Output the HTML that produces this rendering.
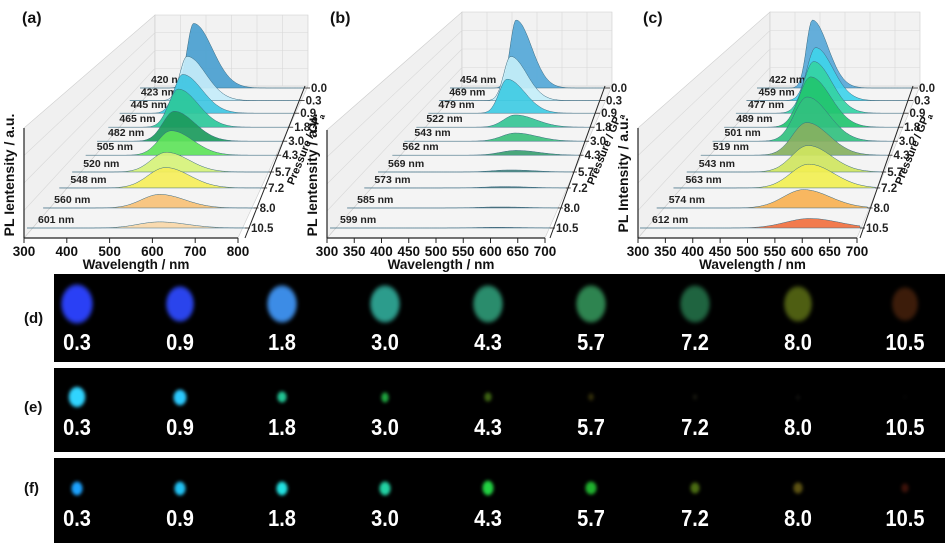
<!DOCTYPE html>
<html><head><meta charset="utf-8">
<style>
body{margin:0;background:#fff;width:950px;height:547px;overflow:hidden;position:relative;font-family:"Liberation Sans",sans-serif}
svg{position:absolute;left:0;top:0}
.strip{position:absolute;left:54px;width:891px;background:#000}
.blob{position:absolute;border-radius:50%}
.pl{position:absolute;color:#fff;font-family:"Liberation Sans Narrow","Liberation Sans",sans-serif;font-weight:bold;font-size:20px;transform:translateX(-50%) scaleY(1.15)}
.sl{position:absolute;left:24px;font-weight:bold;font-size:15px;color:#111}
</style></head><body>
<svg id="chart" width="950" height="275"></svg>

<div class="strip" style="top:274px;height:88px"></div>
<div class="strip" style="top:368px;height:84px"></div>
<div class="strip" style="top:458px;height:85px"></div>
<div class="sl" style="top:310px">(d)</div>
<div class="sl" style="top:399px">(e)</div>
<div class="sl" style="top:480px">(f)</div>

<script>
// ---- data ----
const pressures = ["0.0","0.3","0.9","1.8","3.0","4.3","5.7","7.2","8.0","10.5"];
const aLabels = ["420 nm","423 nm","445 nm","465 nm","482 nm","505 nm","520 nm","548 nm","560 nm","601 nm"];
const aPeaks = [445,452,465,480,495,512,528,552,568,596];
const aIntensity = [95,65,57,56,44,36,29,30,20,9];
const aSigL = [20,22,25,28,32,35,40,45,45,50];
const aSigR = [60,58,58,58,58,60,60,62,62,65];
const bLabels = ["454 nm","469 nm","479 nm","522 nm","543 nm","562 nm","569 nm","573 nm","585 nm","599 nm"];
const bPeaks = [458,466,478,520,540,560,568,573,585,599];
const bIntensity = [100,65,50,18,12,7,3,2,1.5,1];
const bSigL = [16,18,20,28,32,35,38,40,40,40];
const bSigR = [42,42,45,50,50,50,50,50,50,50];
const cLabels = ["422 nm","459 nm","477 nm","489 nm","501 nm","519 nm","543 nm","563 nm","574 nm","612 nm"];
const cPeaks = [428,459,475,489,501,519,543,563,574,605];
const cIntensity = [100,78,76,74,65,48,39,35,27,14];
const cSigL = [16,22,25,28,30,32,35,38,40,45];
const cSigR = [42,45,45,48,50,50,50,52,52,55];
const aColors = ["#4a9fd0","#c4ecf8","#3fc6e2","#2cc89a","#1b9a5c","#5ee35a","#d6f27a","#f5ee5a","#f7c177","#f9d7a8"];
const bColors = ["#55a8d8","#c4eef9","#3fcbe3","#35c495","#3cbf7c","#3a9f70","#4a8a80","#4a7a80","#4a6a70","#4a6070"];
const cColors = ["#58a8d8","#3fd2ea","#34d3a3","#22c46f","#32c07f","#86b060","#cfe55f","#f1ef52","#f7b152","#f1703f"];
const photoLabels = ["0.3","0.9","1.8","3.0","4.3","5.7","7.2","8.0","10.5"];
const dColors = ["#2a40f5","#2a44ec","#3c8ce6","#2c9c8c","#2a8c6c","#2e8450","#1f6440","#4e5e12","#3c1c0a"];
const dSizes = [42,38,40,40,40,40,40,38,36];
const eColors = ["#30d4ff","#2ccaff","#22c494","#1fa23e","#3c6212","#302c0a","#1a1a10","#121210","#050505"];
const eSizes = [22,17,12,11,10,8,6,5,4];
const fColors = ["#1ca2ff","#22c2f4","#22e2e2","#22d2a4","#22d242","#20b22e","#4a6c12","#5c5212","#3c120a"];
const fSizes = [15,15,15,15,16,14,12,12,10];

const NS="http://www.w3.org/2000/svg";
const svg=document.getElementById('chart');
function mk(tag,attrs,parent){const e=document.createElementNS(NS,tag);for(const k in attrs)e.setAttribute(k,attrs[k]);(parent||svg).appendChild(e);return e;}
const tFrac=[1,.91,.82,.72,.62,.52,.4,.286,.143,0];
function lerp(a,b,t){return a+(b-a)*t;}

function panel(cfg,labels,peaks,inten,sigL,sigR,colors,name){
  const g=mk('g',{});
  
  
  const wmin=300,wmax=cfg.wmax;
  const floor=mk('polygon',{points:`${cfg.ax0},238 ${cfg.ax1},238 ${cfg.bw1},86 ${cfg.bw0},86`,fill:'#f4f4f4',stroke:'#ccc','stroke-width':0.6},g);
  
  
  const lw=mk('polygon',{points:`${cfg.ax0},238 ${cfg.ax0},${cfg.lt} ${cfg.bw0},${cfg.bt} ${cfg.bw0},86`,fill:'#f0f0f0',stroke:'#ccc','stroke-width':0.6},g);
  
  
  const bw=mk('polygon',{points:`${cfg.bw0},${cfg.bt} ${cfg.bw1},${cfg.bt} ${cfg.bw1},86 ${cfg.bw0},86`,fill:'#f2f2f2',stroke:'#ccc','stroke-width':0.6},g);
  
  
  for(let k=1;k<6;k++){const x=lerp(cfg.bw0,cfg.bw1,k/6);mk('line',{x1:x,y1:cfg.bt,x2:x,y2:86,stroke:'#d8d8d8','stroke-width':0.6},g);}
  for(let k=1;k<4;k++){const y=lerp(cfg.bt,86,k/4);mk('line',{x1:cfg.bw0,y1:y,x2:cfg.bw1,y2:y,stroke:'#d8d8d8','stroke-width':0.6},g);
    mk('line',{x1:cfg.ax0,y1:lerp(cfg.lt,238,k/4),x2:cfg.bw0,y2:y,stroke:'#d8d8d8','stroke-width':0.6},g);}
  for(let i=0;i<pressures.length;i++){
    const t=tFrac[i], y=228-140*t;
    const x0=lerp(cfg.f0,cfg.b0,t), x1=lerp(cfg.f1,cfg.b1,t);
    const X=w=>x0+(w-wmin)/(wmax-wmin)*(x1-x0);
    let d=`M${X(wmin)-8},${y}`;
    for(let w=wmin;w<=wmax;w+=4){
      const s=w<peaks[i]?sigL[i]:sigR[i];
      const v=inten[i]*Math.exp(-0.5*((w-peaks[i])/s)**2);
      d+=` L${X(w).toFixed(1)},${(y-v*0.68).toFixed(1)}`;
    }
    d+=` L${X(wmax)},${y} Z`;
    const p=mk('path',{d:d,fill:colors[i],'fill-opacity':0.92,stroke:'#3a6a80','stroke-width':0.5},g);
    
    
    const lab=mk('text',{x:X(wmin)+cfg.lo,y:y-5,'font-size':10.5,'font-weight':'bold',fill:'#222'},g);
    lab.textContent=labels[i];
    
    
    mk('line',{x1:X(wmax),y1:y,x2:X(wmax)+5,y2:y,stroke:'#222','stroke-width':0.8},g);
    const pl=mk('text',{x:X(wmax)+6,y:y+4,'font-size':11.5,'font-weight':'bold',fill:'#222'},g);
    pl.textContent=pressures[i];
    
    
  }
  mk('line',{x1:cfg.f1,y1:238,x2:cfg.b1,y2:86,stroke:'#222','stroke-width':1},g);
  mk('line',{x1:cfg.ax0,y1:238,x2:cfg.ax1,y2:238,stroke:'#222','stroke-width':1.2},g);
  mk('line',{x1:cfg.ax0,y1:238,x2:cfg.ax0,y2:cfg.lt,stroke:'#222','stroke-width':1.2},g);
  for(let w=wmin;w<=wmax;w+=cfg.step){
    const x=cfg.ax0+(w-wmin)/(wmax-wmin)*(cfg.ax1-cfg.ax0);
    mk('line',{x1:x,y1:238,x2:x,y2:243,stroke:'#222'},g);
    const tx=mk('text',{x:x,y:256,'font-size':13.5,'font-weight':'bold','text-anchor':'middle',fill:'#111'},g);
    tx.textContent=w;
    
    
  }
  const xt=mk('text',{x:(cfg.ax0+cfg.ax1)/2+5,y:269,'font-size':13.5,'font-weight':'bold','text-anchor':'middle',fill:'#111'},g);
  xt.textContent='Wavelength / nm';
  
  
  const yt=mk('text',{x:0,y:0,'font-size':14,'font-weight':'bold','text-anchor':'middle',fill:'#111',transform:`translate(${cfg.ax0-10},${cfg.yc}) rotate(-90)`},g);
  yt.textContent=cfg.ytitle;
  
  
  const pt=mk('text',{x:0,y:0,'font-size':11,'font-weight':'bold','text-anchor':'middle',fill:'#111',transform:`translate(${cfg.b1+3},${cfg.pty}) rotate(-68)`},g);
  pt.innerHTML='Pressure / GP<tspan font-size="8" dy="3">a</tspan>';
  
  
  const pn=mk('text',{x:cfg.lx,y:23,'font-size':16,'font-weight':'bold',fill:'#111'},g);
  pn.textContent=cfg.panel;
  
  
}
panel({wmax:800,step:100,ax0:24,ax1:238,f0:35,f1:245,b0:148,b1:305,bw0:155,bw1:308,lt:128,bt:15,lo:3,yc:175,pty:150,lx:22,panel:'(a)',ytitle:'PL Ientensity / a.u.'},aLabels,aPeaks,aIntensity,aSigL,aSigR,aColors,'panel-a');
panel({wmax:700,step:50,ax0:327,ax1:545,f0:338,f1:550,b0:458,b1:605,bw0:462,bw1:612,lt:130,bt:12,lo:2,yc:175,pty:150,lx:330,panel:'(b)',ytitle:'PL Ientensity / a.u.'},bLabels,bPeaks,bIntensity,bSigL,bSigR,bColors,'panel-b');
panel({wmax:700,step:50,ax0:638,ax1:857,f0:648,f1:860,b0:765,b1:913,bw0:770,bw1:920,lt:128,bt:12,lo:4,yc:175,pty:150,lx:643,panel:'(c)',ytitle:'PL Intensity / a.u.'},cLabels,cPeaks,cIntensity,cSigL,cSigR,cColors,'panel-c');

const xs=[77,180,282,385,488,591,695,798,905];
function strip(top,blobY,labY,cols,sizes,tag){
  for(let i=0;i<photoLabels.length;i++){
    const b=document.createElement('div');
    b.className='blob';
    
    
    const w=sizes[i]*0.8,h=sizes[i];
    b.style.cssText=`left:${xs[i]-w/2}px;top:${blobY-h/2}px;width:${w}px;height:${h}px;background:radial-gradient(${cols[i]} 55%, transparent 75%);filter:blur(1.5px)`;
    document.body.appendChild(b);
    const l=document.createElement('div');
    l.className='pl';
    
    
    l.style.left=xs[i]+'px';l.style.top=(labY-12)+'px';
    l.textContent=photoLabels[i];
    document.body.appendChild(l);
  }
}
strip(274,304,344,dColors,dSizes,'d');
strip(368,397,429,eColors,eSizes,'e');
strip(458,488,520,fColors,fSizes,'f');
</script>
</body></html>
